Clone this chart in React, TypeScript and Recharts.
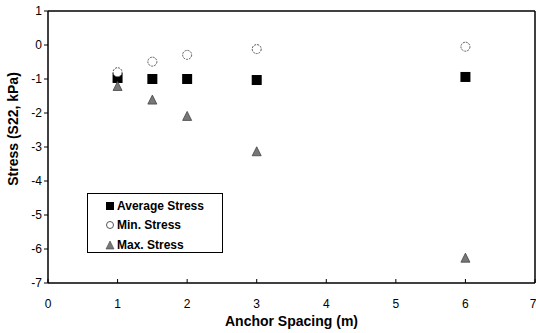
import { ScatterChart, Scatter, XAxis, YAxis, Legend, CartesianGrid } from "recharts";

const spacing = [1, 1.5, 2, 3, 6];
const avgStress = [-0.97, -1.0, -1.0, -1.03, -0.94];
const minStress = [-0.8, -0.49, -0.29, -0.12, -0.05];
const maxStress = [-1.22, -1.62, -2.1, -3.14, -6.27];
const xTicks = [0, 1, 2, 3, 4, 5, 6, 7];
const yTicks = [1, 0, -1, -2, -3, -4, -5, -6, -7];

const toPoints = (vals: number[]) => spacing.map((x, i) => ({ x, y: vals[i] }));

const FONT = '"Liberation Sans", Arial, sans-serif';

const Square = (p: any) => (
  <rect x={p.cx - 5} y={p.cy - 5} width={10} height={10} fill="#000" />
);
const Circle = (p: any) => (
  <circle cx={p.cx} cy={p.cy} r={4.5} fill="#fff" stroke="#555" strokeWidth={1} strokeDasharray="2 1" />
);
const Tri = (p: any) => (
  <path d={`M${p.cx},${p.cy - 5} L${p.cx + 4.5},${p.cy + 4} L${p.cx - 4.5},${p.cy + 4} Z`} fill="#777" stroke="#444" strokeWidth={0.8} />
);

// rotated y title, sits a bit above the plot centre like the original
const YTitle = ({ viewBox }: any) => {
  const cx = 13;
  const cy = viewBox.y + viewBox.height / 2 - 18;
  return (
    <text
      x={cx}
      y={cy}
      transform={`rotate(-90, ${cx}, ${cy})`}
      textAnchor="middle"
      dominantBaseline="central"
      style={{ fontFamily: FONT, fontWeight: "bold", fontSize: 14, fill: "#000" }}
    >
      Stress (S22, kPa)
    </text>
  );
};

const legendItems = [
  { label: "Average Stress", icon: <rect x={1} y={1} width={8} height={8} fill="#000" /> },
  { label: "Min. Stress", icon: <circle cx={5} cy={5} r={3.5} fill="#fff" stroke="#555" /> },
  { label: "Max. Stress", icon: <path d="M5,1 L9,9 L1,9 Z" fill="#777" stroke="#444" strokeWidth={0.6} /> },
];

const LegendBox = () => (
  <div
    style={{
      border: "1px solid #000",
      width: 136,
      height: 60,
      boxSizing: "border-box",
      padding: "2px 0 0 17px",
      fontFamily: FONT,
      fontWeight: "bold",
      fontSize: 12,
      background: "#fff",
    }}
  >
    {legendItems.map((it) => (
      <div key={it.label} style={{ display: "flex", alignItems: "center", height: 19.5 }}>
        <svg width={10} height={10} style={{ marginRight: 2 }}>
          {it.icon}
        </svg>
        {it.label}
      </div>
    ))}
  </div>
);

export default function App() {
  return (
    <div style={{ position: "absolute", left: 0, top: 0, background: "#fff" }}>
      <ScatterChart width={536} height={333} margin={{ top: 11, right: 1, left: 0, bottom: 0 }}>
        {/* top and right edges of the frame */}
        <CartesianGrid horizontalValues={[1]} verticalValues={[7]} stroke="#000" strokeWidth={1.5} />
        <XAxis
          type="number"
          dataKey="x"
          domain={[0, 7]}
          ticks={xTicks}
          height={50}
          axisLine={{ stroke: "#000", strokeWidth: 1.5 }}
          tickLine={{ stroke: "#000" }}
          tickSize={-4}
          tick={{ fill: "#000", fontSize: 12, fontFamily: FONT }}
          tickMargin={20}
          label={{ value: "Anchor Spacing (m)", position: "insideBottom", offset: 7, style: { fontFamily: FONT, fontWeight: "bold", fontSize: 14, fill: "#000" } }}
        />
        <YAxis
          type="number"
          dataKey="y"
          domain={[-7, 1]}
          ticks={yTicks}
          width={48}
          axisLine={{ stroke: "#000", strokeWidth: 1.5 }}
          tickLine={{ stroke: "#000" }}
          tickSize={4}
          tick={{ fill: "#000", fontSize: 12, fontFamily: FONT }}
          label={<YTitle />}
        />
        <Legend
          content={<LegendBox />}
          layout="vertical"
          align="center"
          verticalAlign="middle"
          wrapperStyle={{ left: 87, top: 193, width: 136, height: 60 }}
        />
        <Scatter name="Average Stress" data={toPoints(avgStress)} shape={Square} isAnimationActive={false} />
        <Scatter name="Min. Stress" data={toPoints(minStress)} shape={Circle} isAnimationActive={false} />
        <Scatter name="Max. Stress" data={toPoints(maxStress)} shape={Tri} isAnimationActive={false} />
      </ScatterChart>
    </div>
  );
}
